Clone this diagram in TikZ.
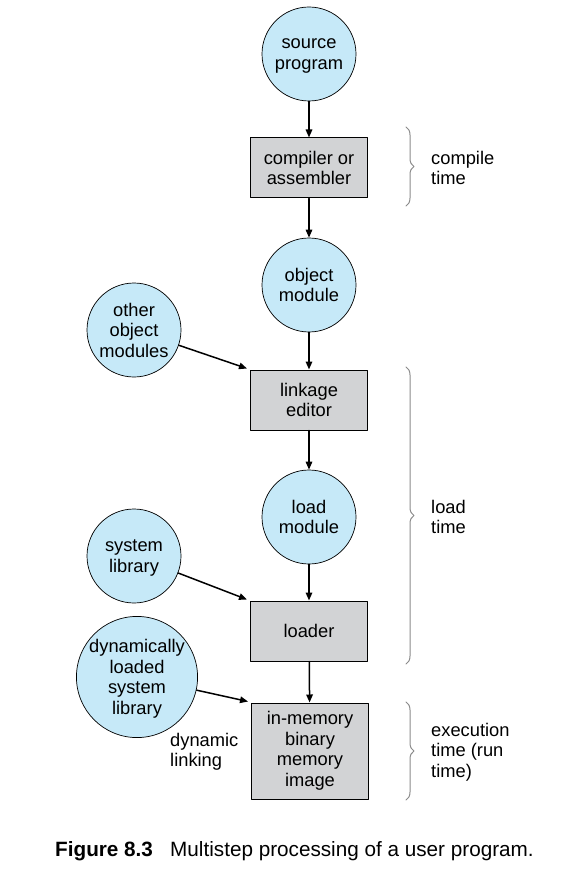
\documentclass[tikz,border=0pt]{standalone}
\usepackage{fontspec}
\setmainfont{Liberation Sans}
\usetikzlibrary{arrows.meta,decorations.pathreplacing,calc}
\definecolor{fileblue}{HTML}{C6E9F8}
\definecolor{stagegray}{HTML}{D2D3D5}
\definecolor{bracegray}{HTML}{8A8A8A}
\newcommand{\figfont}{\fontsize{18.3}{20.5}\selectfont}

\begin{document}
\begin{tikzpicture}[line cap=round,line join=round,>={Triangle[length=8pt,width=6.5pt]},x=1pt,y=-1pt]
                \tikzset{
                    file/.style={circle,draw=black,line width=0.7pt,fill=fileblue,minimum size=94pt,inner sep=0pt,text depth=0pt,align=center,font=\figfont},
                    stage/.style={rectangle,draw=black,line width=1pt,fill=stagegray,minimum width=117pt,minimum height=60pt,inner sep=0pt,align=center,font=\figfont},
                    flow/.style={->,line width=1.5pt},
                    timebrace/.style={decorate,decoration={brace,amplitude=8pt},draw=bracegray,line width=1pt},
                    note/.style={anchor=west,align=left,inner sep=0pt,font=\figfont}
                }
                \useasboundingbox (0,0) rectangle (584,877);
                \node [file] (src) at (309,54) {source\\program};
                \node [stage] (comp) at (309,168) {compiler or\\assembler};
                \node [file] (obj) at (309,285) {object\\module};
                \node [file] (others) at (134,330) {other\\object\\modules};
                \node [stage] (link) at (309,400) {linkage\\editor};
                \node [file] (load) at (309,517) {load\\module};
                \node [file] (syslib) at (134,556) {system\\library};
                \node [stage] (loader) at (309,631) {loader};
                \node [file,minimum size=112pt] (dynlib) at (137,677) {dynamically\\loaded\\system\\library};
                \node [stage,minimum height=96pt] (image) at (310,751) {in-memory\\binary\\memory\\image};
                \draw [flow] (src) -- (comp);
                \draw [flow] (comp) -- (obj);
                \draw [flow] (obj) -- (link);
                \draw [flow] (others) -- ($(link.north west)+(-3,-1)$);
                \draw [flow] (link) -- (load);
                \draw [flow] (load) -- (loader);
                \draw [flow] (syslib) -- ($(loader.north west)+(-3,-1)$);
                \draw [flow] (loader) -- (image);
                \draw [flow] (dynlib) -- ($(image.north west)+(-3,-1)$);
                \node [note] (dynlink) at (170,752) {dynamic\\linking};
                \coordinate (ctop) at (406,127);
                \coordinate (cbot) at (406,206);
                \coordinate (ltop) at (406,367);
                \coordinate (lbot) at (406,664);
                \coordinate (etop) at (406,702);
                \coordinate (ebot) at (406,800);
                \draw [timebrace] (ctop) -- (cbot);
                \draw [timebrace] (ltop) -- (lbot);
                \draw [timebrace] (etop) -- (ebot);
                \node [note] (ctime) at (431,168) {compile\\time};
                \node [note] (ltime) at (431,517) {load\\time};
                \node [note] (etime) at (431,752) {execution\\time (run\\time)};
                \node [note,font=\fontsize{20.7}{22}\selectfont\bfseries] (fignum) at (55,851) {Figure 8.3};
                \node [note,font=\fontsize{20.7}{22}\selectfont] (caption) at (170,851) {Multistep processing of a user program.};
            \end{tikzpicture}
\end{document}
